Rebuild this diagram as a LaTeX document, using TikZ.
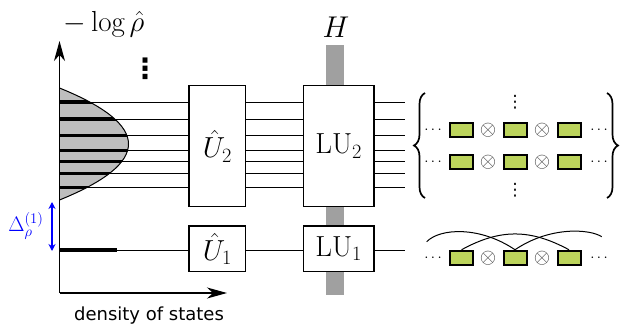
\RequirePackage{fix-cm}
\documentclass[tikz,border=0pt]{standalone}
\usepackage{fontspec}
\newfontfamily\dejavu{DejaVu Sans}
\usetikzlibrary{arrows.meta,decorations.pathreplacing}
\definecolor{tgreen}{RGB}{188,212,92}
\definecolor{hgray}{RGB}{160,160,160}
\definecolor{dgray}{RGB}{190,190,190}
\begin{document}
\begin{tikzpicture}[x=1pt,y=-1pt,
  gate/.style={draw, line width=1.3pt, fill=white, inner sep=0pt, font=\fontsize{29}{33}\selectfont},
  wire/.style={line width=0.8pt},
  levelline/.style={line width=3.5pt},
  axisline/.style={line width=1.2pt, -{Stealth[length=20pt,width=11pt,inset=6pt]}},
  tens/.style={draw, line width=2pt, fill=tgreen, minimum width=23pt, minimum height=14.5pt, inner sep=0pt},
  otim/.style={text=black!75, inner sep=0pt, font=\fontsize{21}{24}\selectfont},
  hdots/.style={inner sep=0pt, font=\fontsize{15}{17}\selectfont},
  bracestyle/.style={decorate, decoration={brace, amplitude=11pt}, line width=1.7pt},
  arcline/.style={line width=1pt}]
\useasboundingbox (0,0) rectangle (621,326);

% Hamiltonian bar
\fill[hgray] (326,45) rectangle (344,295);

% density of states (shaded)
\fill[dgray] (59.5,88) .. controls (151.5,125.3) and (151.5,162.7) .. (59.5,200) -- cycle;

% level coordinates
\foreach \y [count=\i] in {102,119,135.5,150.5,161.5,173.3,187.5} {
  \coordinate (l\i) at (59.5,\y);
  \coordinate (r\i) at (405,\y);
}
\coordinate (l0) at (59.5,250);
\coordinate (l0end) at (117,250);
\coordinate (r0) at (405,250);

% gates
\node[gate, minimum width=56.7pt, minimum height=121pt] (U2) at (217.4,146.2) {$\hat{U}_2$};
\node[gate, minimum width=70.7pt, minimum height=121pt] (LU2) at (338.7,146.2) {$\mathrm{LU}_2$};
\node[gate, minimum width=56.7pt, minimum height=45.7pt] (U1) at (217.4,248.8) {$\hat{U}_1$};
\node[gate, minimum width=70.7pt, minimum height=45.7pt] (LU1) at (338.7,248.8) {$\mathrm{LU}_1$};

% wires
\foreach \i in {1,...,7} {
  \draw[wire] (l\i) -- (l\i -| U2.west);
  \draw[wire] (l\i -| U2.east) -- (l\i -| LU2.west);
  \draw[wire] (l\i -| LU2.east) -- (r\i);
}
\draw[wire] (l0) -- (l0 -| U1.west);
\draw[wire] (l0 -| U1.east) -- (l0 -| LU1.west);
\draw[wire] (l0 -| LU1.east) -- (r0);

% thick levels inside distribution
\begin{scope}
  \clip (59.5,88) .. controls (151.5,125.3) and (151.5,162.7) .. (59.5,200) -- cycle;
  \foreach \i in {1,...,7} \draw[levelline] (l\i) -- ++(100,0);
\end{scope}
\draw[line width=1pt] (59.5,88) .. controls (151.5,125.3) and (151.5,162.7) .. (59.5,200);
\draw[levelline] (l0) -- (l0end);

% axes
\coordinate (O) at (59.5,293);
\coordinate (ytip) at (59.5,41);
\coordinate (xtip) at (227,293);
\draw[axisline] (O) -- (ytip);
\draw[axisline] (O) -- (xtip);

% gap arrow
\coordinate (gtop) at (52,202);
\coordinate (gbot) at (52,251);
\draw[blue, line width=1.5pt, {Stealth[length=7pt,width=7pt]}-{Stealth[length=7pt,width=7pt]}] (gtop) -- (gbot);
\node[blue, font=\fontsize{21}{24}\selectfont, inner sep=0pt] (gap) at (26,226) {$\Delta_\rho^{(1)}$};

% labels
\node[font=\fontsize{29}{33}\selectfont, anchor=base, inner sep=0pt] (ylab) at (104,31.5) {$-\log\hat{\rho}$};
\node[font=\fontsize{30}{34}\selectfont, anchor=base, inner sep=0pt] (Hlab) at (336,37.3) {$H$};
\node[font=\dejavu\fontsize{18}{22}\selectfont, anchor=base, inner sep=0pt] (dos) at (149,320) {density of states};
\node[font=\dejavu\bfseries\fontsize{28}{28}\selectfont, inner sep=0pt] (bigdots) at (145,68.5) {⋮};

% tensor rows
\foreach \r/\y in {a/130,b/162,c/258} {
  \node[tens] (\r1) at (461.5,\y) {};
  \node[tens] (\r2) at (515,\y) {};
  \node[tens] (\r3) at (569,\y) {};
  \node[otim] (\r o1) at (488,\y) {$\otimes$};
  \node[otim] (\r o2) at (542,\y) {$\otimes$};
  \node[hdots] (\r dl) at (433,\y) {$\cdots$};
  \node[hdots] (\r dr) at (599,\y) {$\cdots$};
}
\node[font=\dejavu\fontsize{17}{20}\selectfont, inner sep=0pt] (vtop) at (515,102.5) {⋮};
\node[font=\dejavu\fontsize{17}{20}\selectfont, inner sep=0pt] (vbot) at (515,190) {⋮};

% braces
\coordinate (lbb) at (425,198);
\coordinate (lbt) at (425,93);
\coordinate (rbt) at (607,93);
\coordinate (rbb) at (607,198);
\draw[bracestyle] (lbb) -- (lbt);
\draw[bracestyle] (rbt) -- (rbb);

% correlation arcs
\coordinate (aL) at (426.7,241.7);
\coordinate (aR) at (601.7,236.7);
\draw[arcline] (aL) .. controls (440,228) and (480,226) .. (c2.north);
\draw[arcline] (c1.north) .. controls (500,228.7) and (530,228.7) .. (c3.north);
\draw[arcline] (c2.north) .. controls (550,226) and (590,229) .. (aR);
\end{tikzpicture}
\end{document}
